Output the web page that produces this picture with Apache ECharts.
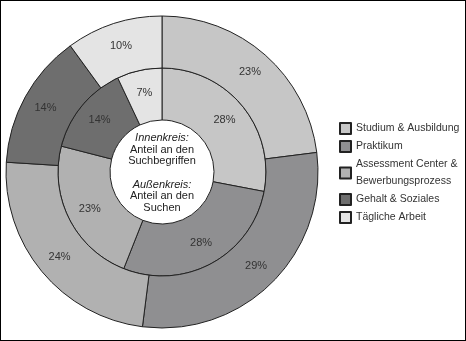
<!DOCTYPE html>
<html>
<head>
<meta charset="utf-8">
<script src="https://cdn.jsdelivr.net/npm/echarts@6/dist/echarts.min.js"></script>
<style>
  html, body { margin: 0; padding: 0; background: #fff; }
  #chart { width: 466px; height: 341px; border: 1px solid #000; box-sizing: border-box; }
</style>
</head>
<body>
<div id="chart"></div>
<script>
const categories = ['Studium & Ausbildung', 'Praktikum', 'Assessment Center &\nBewerbungsprozess', 'Gehalt & Soziales', 'Tägliche Arbeit'];
const innerShare = [28, 28, 23, 14, 7];   // Anteil an den Suchbegriffen
const outerShare = [23, 29, 24, 14, 10];  // Anteil an den Suchen
const colors = ['#c6c6c6', '#8f8f91', '#b1b1b1', '#6e6e6e', '#e4e4e4'];

const FONT = '"Liberation Sans", Arial, sans-serif';

(function () {
  const chart = echarts.init(document.getElementById('chart'));
  const toData = vals => vals.map((v, i) => ({ name: categories[i], value: v, itemStyle: { color: colors[i] } }));
  const ring = (name, radius, vals) => ({
    name: name,
    type: 'pie',
    center: [161, 171],
    radius: radius,
    startAngle: 90,
    clockwise: true,
    silent: true,
    avoidLabelOverlap: false,
    itemStyle: { borderColor: '#222', borderWidth: 1 },
    label: { show: true, position: 'inside', formatter: '{c}%', color: '#333', fontSize: 11, fontFamily: FONT },
    labelLine: { show: false },
    data: toData(vals),
  });

  chart.setOption({
    animation: false,
    color: colors,
    legend: {
      orient: 'vertical',
      left: 333,
      top: 114,
      icon: 'rect',
      itemWidth: 11,
      itemHeight: 11,
      itemGap: 1,
      selectedMode: false,
      data: categories,
      textStyle: { color: '#333', fontSize: 10.5, lineHeight: 17, fontFamily: FONT },
    },
    graphic: [{
      type: 'text',
      x: 161,
      y: 172,
      z: 100,
      style: {
        text: '{i|Innenkreis:}\nAnteil an den\nSuchbegriffen\n\n{i|Außenkreis:}\nAnteil an den\nSuchen',
        align: 'center',
        verticalAlign: 'middle',
        fill: '#222',
        fontSize: 11,
        lineHeight: 11.7,
        fontFamily: FONT,
        rich: { i: { fontStyle: 'italic', fontSize: 11, lineHeight: 11.7, fontFamily: FONT, fill: '#222' } },
      },
    }],
    series: [
      ring('Innenkreis', [52, 104], innerShare),
      ring('Außenkreis', [104, 156], outerShare),
    ],
  });
})();
</script>
</body>
</html>
